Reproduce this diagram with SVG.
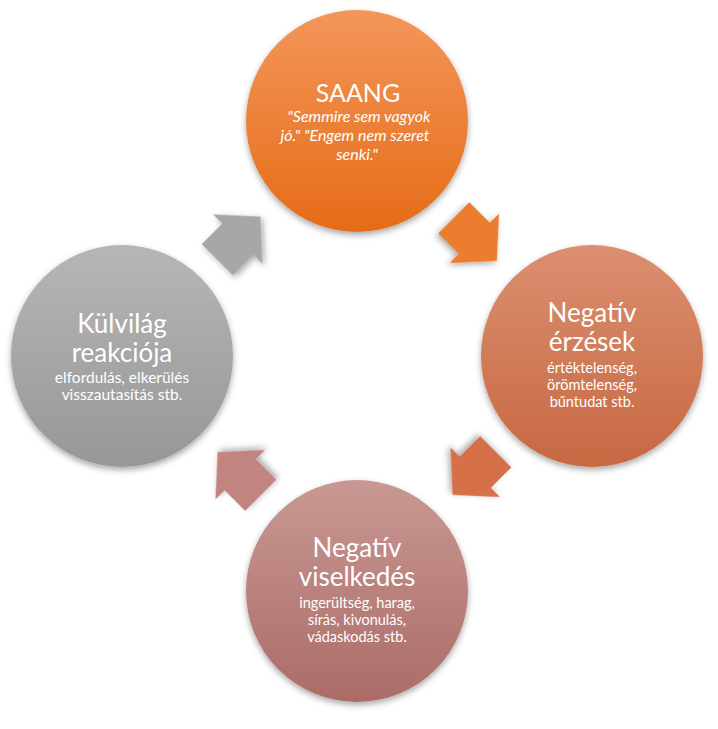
<svg xmlns="http://www.w3.org/2000/svg" width="718" height="729" viewBox="0 0 718 729">
  <defs>
    <filter id="sh" x="-20%" y="-20%" width="140%" height="150%">
      <feDropShadow dx="0" dy="3" stdDeviation="3" flood-color="#000" flood-opacity="0.35"/>
    </filter>
    <linearGradient id="g1" x1="0" y1="0" x2="0" y2="1">
      <stop offset="0" stop-color="#F4965A"/>
      <stop offset="1" stop-color="#E56C17"/>
    </linearGradient>
    <linearGradient id="g2" x1="0" y1="0" x2="0" y2="1">
      <stop offset="0" stop-color="#DB8F70"/>
      <stop offset="1" stop-color="#C76842"/>
    </linearGradient>
    <linearGradient id="g3" x1="0" y1="0" x2="0" y2="1">
      <stop offset="0" stop-color="#C99893"/>
      <stop offset="1" stop-color="#AB6C68"/>
    </linearGradient>
    <linearGradient id="g4" x1="0" y1="0" x2="0" y2="1">
      <stop offset="0" stop-color="#B6B6B6"/>
      <stop offset="1" stop-color="#979797"/>
    </linearGradient>
    <polygon id="arr" points="-30,-22 -1,-22 -1,-35 31,0 -1,35 -1,22 -30,22"/>
    <style>
      text { font-family: Lato, "Liberation Sans", sans-serif; fill: #ffffff; text-anchor: middle; }
      .big { font-size: 26px; }
      .title { font-size: 25px; }
      .sm { font-size: 14.5px; }
      .sm2 { font-size: 15.5px; }
      .q { font-size: 16px; font-style: italic; }
      .node { filter: url(#sh); }
    </style>
  </defs>
  <rect width="718" height="729" fill="#ffffff"/>

  <g id="connectors">
    <use href="#arr" transform="translate(475,239) rotate(45)" fill="#EC7C2E" filter="url(#sh)"/>
    <use href="#arr" transform="translate(474.5,473) rotate(135)" fill="#D6704A" filter="url(#sh)"/>
    <use href="#arr" transform="translate(239.5,474) rotate(225)" fill="#C2847F" filter="url(#sh)"/>
    <use href="#arr" transform="translate(238.5,238.5) rotate(315)" fill="#A7A7A7" filter="url(#sh)"/>
  </g>

  <g id="node-saang">
    <circle class="node" cx="357" cy="121" r="111" fill="url(#g1)"/>
    <text class="title" x="358" y="102">SAANG</text>
    <text class="q" x="359" y="122">"Semmire sem vagyok</text>
    <text class="q" x="355" y="141">jó." "Engem nem szeret</text>
    <text class="q" x="357" y="160">senki."</text>
  </g>

  <g id="node-negativ-erzesek">
    <circle class="node" cx="592" cy="356" r="111" fill="url(#g2)"/>
    <text class="big" x="592" y="322">Negatív</text>
    <text class="big" x="592" y="351">érzések</text>
    <text class="sm" x="592" y="373">értéktelenség,</text>
    <text class="sm" x="592" y="390">örömtelenség,</text>
    <text class="sm" x="592" y="407">bűntudat stb.</text>
  </g>

  <g id="node-negativ-viselkedes">
    <circle class="node" cx="357" cy="591" r="111" fill="url(#g3)"/>
    <text class="big" x="357" y="557">Negatív</text>
    <text class="big" x="357" y="586">viselkedés</text>
    <text class="sm" x="357" y="608">ingerültség, harag,</text>
    <text class="sm" x="357" y="625">sírás, kivonulás,</text>
    <text class="sm" x="357" y="642">vádaskodás stb.</text>
  </g>

  <g id="node-kulvilag">
    <circle class="node" cx="122" cy="356" r="111" fill="url(#g4)"/>
    <text class="big" x="122" y="333">Külvilág</text>
    <text class="big" x="122" y="362">reakciója</text>
    <text class="sm2" x="122" y="383">elfordulás, elkerülés</text>
    <text class="sm2" x="122" y="400">visszautasítás stb.</text>
  </g>
</svg>
